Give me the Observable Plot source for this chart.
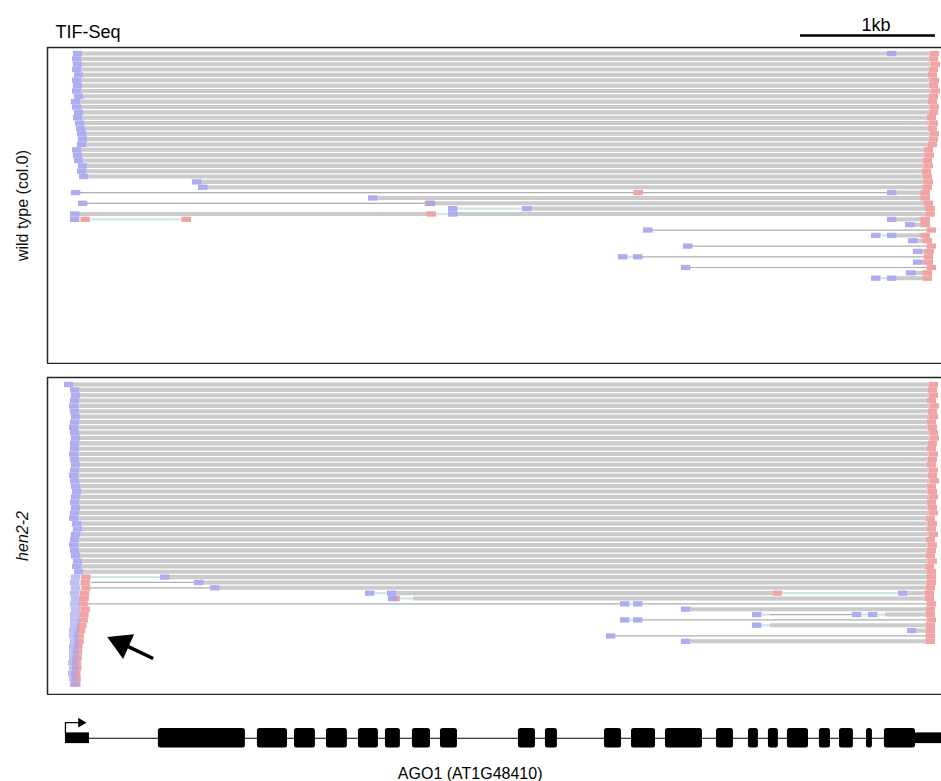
<!DOCTYPE html>
<html><head><meta charset="utf-8">
<script src="https://cdn.jsdelivr.net/npm/d3@7"></script>
<script src="https://cdn.jsdelivr.net/npm/@observablehq/plot@0.6"></script>
<style>
body{margin:0;background:#fff;}
#fig{position:relative;width:941px;height:781px;overflow:hidden;font-family:"Liberation Sans",Arial,sans-serif;}
#fig svg{position:absolute;left:0;}
</style></head><body><div id="fig"></div>
<script>
// ---------------- DATA (genomic positions in bp relative to the AGO1 TSS; rows = read rows) ----------------
const title = "TIF-Seq";
const scaleBarStart = 5449, scaleBarLength = 1000, scaleBarLabel = "1kb";
const wtLabel = "wild type (col.0)";
const henLabel = "hen2-2";
const geneName = "AGO1 (AT1G48410)";
const geneNamePos = 3000;
const geneStart = 0, geneEnd = 6494;
const geneExons = [[689,1334],[1423,1646],[1698,1853],[1935,2090],[2172,2320],[2372,2483],[2572,2706],[2780,2906],[3358,3484],[3558,3647],[3996,4122],[4196,4374],[4448,4722],[4826,4952],[5063,5137],[5211,5285],[5352,5508],[5589,5671],[5738,5841],[5938,5982],[6071,6301]];
const geneUTRs = [[0,178],[6301,6494]];

// wild type: full-length reads (row = index)
const wtFullStart = [59,52,59,52,67,52,59,52,67,44,52,67,59,74,82,89,96,89,52,59,67,96,89,104];
const wtFullEnd = [6479,6472,6486,6472,6464,6479,6472,6486,6472,6464,6479,6472,6457,6472,6464,6479,6472,6464,6435,6442,6427,6435,6420,6427];
// wild type: other reads, as [row, position] tags and [row, from, to] segments
const wtBlue = [[0,6093],[24,941],[25,986],[26,44],[26,6093],[27,2246],[28,96],[28,2676],[29,2839],[29,3388],[30,37],[30,2839],[31,37],[31,6093],[32,6227],[33,4285],[34,5975],[34,6093],[35,6249],[36,4581],[37,6286],[38,4099],[38,4211],[39,6286],[40,4566],[41,6234],[42,5975],[42,6093]];
const wtRed = [[24,6435],[25,6427],[26,4285],[26,6412],[27,6412],[28,2736],[28,6435],[29,6449],[30,2751],[30,6449],[31,185],[31,934],[31,6412],[32,6412],[33,6457],[34,6412],[35,6427],[36,6457],[37,6442],[38,6435],[39,6435],[40,6457],[41,6427],[42,6427]];
const wtBars = [[24,1001,6375],[25,1046,6367],[26,6153,6352],[27,2306,6352],[28,2736,6375],[29,3448,6389],[30,97,2691],[30,2899,6389],[31,6153,6352],[32,6287,6352],[34,6153,6352],[35,6309,6367],[37,6346,6382],[39,6346,6375],[41,6294,6367],[42,6153,6367]];
const wtLines = [[26,104,6093],[28,156,2676],[33,4345,6397],[36,4641,6397],[38,4271,6375],[40,4626,6397]];
const wtPale = [[29,2899,3388],[30,2751,2839],[31,185,875],[34,6035,6093],[38,4159,4211],[42,6035,6093]];

// hen2-2: full-length reads
const henFullStart = [-7,37,44,37,30,37,44,37,30,37,44,37,37,30,37,44,37,30,37,44,52,44,37,44,37,30,52,59,44,37,30,37,44,59,52,67];
const henFullEnd = [6472,6464,6472,6457,6479,6464,6472,6457,6464,6472,6479,6464,6457,6472,6464,6457,6472,6464,6479,6457,6464,6472,6457,6464,6472,6449,6464,6457,6472,6449,6464,6457,6449,6464,6442,6457];
// hen2-2: short 5'-proximal reads [row, start, end]
const henShort = [[36,44,190],[37,37,185],[38,44,190],[39,37,180],[40,44,178],[41,37,170],[42,44,185],[43,37,175],[44,37,170],[45,37,160],[46,30,150],[47,30,140],[48,37,140],[49,30,130],[50,30,128],[51,30,125],[52,22,120],[53,30,122],[54,22,115],[55,30,118],[56,37,115]];
const henBlue = [[36,704],[37,956],[38,1075],[39,2224],[39,2387],[39,6175],[40,2394],[41,4114],[41,4211],[42,4566],[43,5093],[43,5834],[43,5953],[44,4114],[44,4211],[45,5093],[46,6242],[47,4010],[48,4566]];
const henRed = [[36,6457],[37,6457],[38,6449],[39,5315],[39,6442],[40,2483],[40,6442],[41,6457],[42,6449],[43,6450],[44,6457],[45,6449],[46,6450],[47,6450],[48,6449]];
const henBars = [[36,764,6387],[37,1016,6387],[38,1135,6379],[39,2457,5245],[39,6245,6372],[40,2580,6372],[42,4636,6379],[43,6079,6380],[45,5226,6379],[46,6312,6380],[48,4636,6379]];
const henLines = [[37,190,956],[38,190,1075],[41,126,4114],[41,4281,6387],[43,5226,5834],[44,4281,6387],[47,4080,6380]];
const henPale = [[36,190,704],[39,2294,2387],[39,5315,6175],[40,2483,2580],[41,4184,4211],[43,5163,5226],[43,5904,5953],[43,6023,6079],[44,4184,4211],[45,5163,5226]];
// annotation arrow in the hen2-2 panel (tail -> tip, bp / row)
const henArrow = {x1: 650, y1: 51.2, x2: 315, y2: 47.2};

// ---------------- LAYOUT ----------------
const W = 941, ML = 47;
const XDOM = [-133, 6494];
const PITCH = 5.35;          // px per read row
const TAG = 70;              // bp drawn for each read-end tag
const C = {bar:"#cbcbcb", line:"#aeaeae", pale:"#d2e6e7", blue:"#a4a4ee", red:"#f0a4a4", frame:"#262626"};
const SANS = "'Liberation Sans', Arial, sans-serif";
const fig = document.getElementById("fig");
function place(svg, top) { svg.style.top = top + "px"; fig.appendChild(svg); }
const seg = (arr, stroke, strokeWidth, extra = {}) =>
  Plot.ruleY(arr, {y: d => d[0], x1: d => d[1], x2: d => d[2], stroke, strokeWidth, ...extra});

function panel({fullStart, fullEnd, blue, red, bars, lines, pale, short = [], label, italic, offset, height, extra = []}) {
  const full = fullStart.map((s, i) => ({row: i, start: s, end: fullEnd[i]}));
  const sh = short.map(([row, start, end]) => ({row, start, end}));
  const redTags = [...full, ...sh, ...red.map(([row, end]) => ({row, end}))];
  const blueTags = [...full, ...blue.map(([row, start]) => ({row, start}))];
  const yDom = [-offset / PITCH, (height - 2 - offset) / PITCH];
  return Plot.plot({
    width: W, height, marginLeft: ML, marginRight: 0, marginTop: 1, marginBottom: 1,
    x: {domain: XDOM, axis: null},
    y: {domain: yDom, range: [1, height - 1], axis: null},
    style: {fontFamily: SANS, fontSize: "16px", background: "transparent"},
    marks: [
      seg(lines, C.line, 1.2),
      seg(pale, C.pale, 2.2),
      Plot.ruleY(full, {y: "row", x1: d => d.start + TAG, x2: d => d.end - TAG, stroke: C.bar, strokeWidth: 4.1}),
      seg(bars, C.bar, 4.1),
      Plot.ruleY(redTags, {y: "row", x1: d => d.end - TAG, x2: "end", stroke: C.red, strokeWidth: 5.3}),
      Plot.ruleY(blueTags, {y: "row", x1: "start", x2: d => d.start + TAG, stroke: C.blue, strokeWidth: 5.3, strokeOpacity: 0.9}),
      Plot.ruleY(sh, {y: "row", x1: "start", x2: d => d.start + TAG, stroke: C.blue, strokeWidth: 5.3, strokeOpacity: 0.7}),
      ...extra,
      Plot.ruleY(yDom, {stroke: C.frame, strokeWidth: 1.5}),
      Plot.ruleX([XDOM[0]], {stroke: C.frame, strokeWidth: 1.5}),
      Plot.text([label], {frameAnchor: "left", dx: -25, rotate: -90, textAnchor: "middle", lineAnchor: "middle",
        fontSize: 16, fontStyle: italic ? "italic" : "normal", fill: "#111"})
    ]
  });
}

// header: title + scale bar
place(Plot.plot({
  width: W, height: 47, marginLeft: ML, marginRight: 0, marginTop: 0, marginBottom: 0,
  x: {domain: XDOM, axis: null},
  y: {domain: [0, 1], range: [35, 30], axis: null},
  style: {fontFamily: SANS, fontSize: "18px", background: "transparent"},
  marks: [
    Plot.ruleY([{start: scaleBarStart, length: scaleBarLength}], {y: 0, x1: d => d.start, x2: d => d.start + d.length, stroke: "#000", strokeWidth: 2.6}),
    Plot.text([scaleBarLabel], {x: scaleBarStart + scaleBarLength / 2, y: 1, dx: 8, lineAnchor: "bottom", fontSize: 18, fill: "#000"}),
    Plot.text([title], {frameAnchor: "bottom-left", dx: 8, dy: -10, textAnchor: "start", lineAnchor: "bottom", fontSize: 18, fill: "#000"})
  ]
}), 0);

// wild type panel
place(panel({fullStart: wtFullStart, fullEnd: wtFullEnd, blue: wtBlue, red: wtRed, bars: wtBars, lines: wtLines, pale: wtPale,
  label: wtLabel, italic: false, offset: 6, height: 318}), 46);

// hen2-2 panel
place(panel({fullStart: henFullStart, fullEnd: henFullEnd, blue: henBlue, red: henRed, bars: henBars, lines: henLines, pale: henPale,
  short: henShort, label: henLabel, italic: true, offset: 7, height: 319,
  extra: [
    Plot.link([henArrow], {x1: "x1", y1: "y1", x2: d => d.x1 + (d.x2 - d.x1) * 0.55, y2: d => d.y1 + (d.y2 - d.y1) * 0.55, stroke: "#000", strokeWidth: 3.4}),
    Plot.dot([henArrow], {x: d => d.x1 + (d.x2 - d.x1) * 0.7, y: d => d.y1 + (d.y2 - d.y1) * 0.7, symbol: "triangle", r: 10, rotate: 294, fill: "#000"})
  ]}), 376);

// gene model
const tss = [[geneStart, 0.55], [geneStart, 1.6], [geneStart + 100, 1.6]];
place(Plot.plot({
  width: W, height: 86, marginLeft: ML, marginRight: 0, marginTop: 0, marginBottom: 0,
  x: {domain: XDOM, axis: null},
  y: {domain: [-1, 1], range: [52.5, 33], axis: null},
  style: {fontFamily: SANS, fontSize: "16px", background: "transparent"},
  marks: [
    Plot.ruleY([0], {x1: geneStart, x2: geneEnd, stroke: "#000", strokeWidth: 1.2}),
    Plot.rect(geneUTRs, {x1: d => d[0], x2: d => d[1], y1: -0.55, y2: 0.55, fill: "#000"}),
    Plot.rect(geneExons, {x1: d => d[0], x2: d => d[1], y1: -1, y2: 1, fill: "#000", rx: 2.5}),
    Plot.line(tss, {x: d => d[0], y: d => d[1], stroke: "#000", strokeWidth: 1.3}),
    Plot.dot([tss[2]], {x: d => d[0] + 15, y: d => d[1], symbol: "triangle", r: 3.6, rotate: 90, fill: "#000"}),
    Plot.text([geneName], {x: geneNamePos, frameAnchor: "bottom", lineAnchor: "bottom", dy: -3, fontSize: 16, fill: "#000"})
  ]
}), 695);
</script></body></html>
